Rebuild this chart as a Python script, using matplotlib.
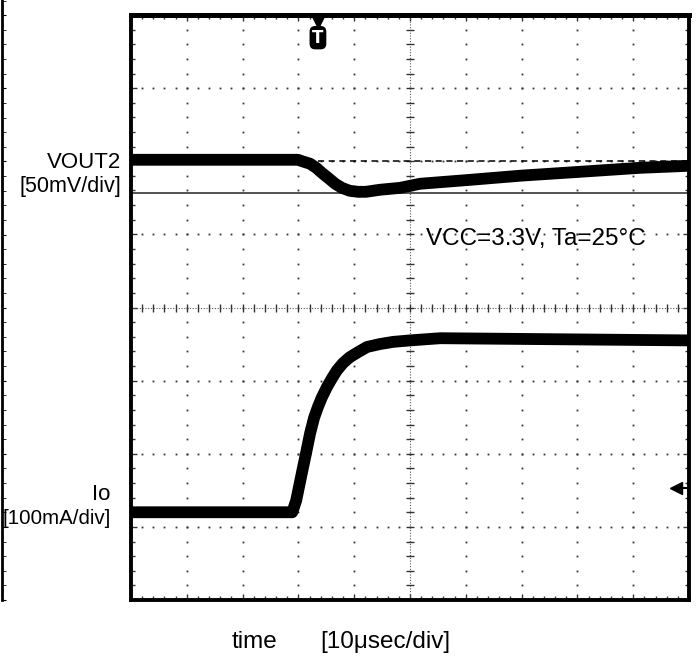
import numpy as np
import matplotlib
matplotlib.use("Agg")
import matplotlib.pyplot as plt
from matplotlib.ticker import MultipleLocator, NullFormatter

plt.rcParams["font.family"] = ["Liberation Sans", "DejaVu Sans"]

# time axis: 10 usec/div, 10 divisions
t_vout = [0, 29.9, 31.0, 32.1, 33.2, 34.2, 35.3, 36.6, 37.8, 39.2, 40.7, 42.1, 44.6,
          48.2, 51.8, 60.8, 69.7, 80.5, 91.2, 100]
# VOUT2 deviation from its starting level [mV], 50 mV/div
vout_mv = [0, 0, -1.4, -2.7, -5.5, -8.9, -12.3, -16.4, -19.2, -21.2, -21.9, -21.9, -20.5,
           -19.2, -16.4, -13.7, -10.9, -8.2, -5.5, -4.1]

t_io = [0, 28.9, 29.6, 30.6, 31.4, 32.1, 32.8, 33.5, 34.2, 35.1, 36.0, 36.9, 38.0,
        39.2, 40.7, 42.3, 44.6, 47.0, 50.0, 55.4, 100]
# load current step [mA], 100 mA/div
io_ma = [0, 0, 16, 53, 82, 108, 129, 144, 157, 171, 183, 194, 204,
         212, 219, 226, 230, 233, 235, 238, 235]

VOUT_BASE_DIV = 6.02   # screen position of VOUT2 before the step
IO_BASE_DIV = 1.20     # screen position of Io before the step
VOUT_REF_DIV = 5.57    # solid reference line
TRIG_US = 33.5

W, H = 696, 659
fig = plt.figure(figsize=(W / 100, H / 100), dpi=100)

L, R, T, B = 131, 689, 15, 600
ax = fig.add_axes([L / W, 1 - B / H, (R - L) / W, (B - T) / H])
ax.set_xlim(0, 100)
ax.set_ylim(0, 8)

# graticule: dotted major lines
for gx in range(10, 100, 10):
    if gx == 50:
        continue
    ys = np.arange(0.2, 8, 0.2)
    ax.plot(np.full_like(ys, gx), ys, "s", ms=1.3, color="#333333", mec="none")
for gy in range(1, 8):
    if gy == 4:
        continue
    xs = np.arange(2, 100, 2)
    ax.plot(xs, np.full_like(xs, gy, dtype=float), "s", ms=1.3, color="#333333", mec="none")

# center cross with small ticks
ax.axvline(50, color="#555555", lw=0.8, ls=(0, (1, 1.5)))
ax.axhline(4, color="#555555", lw=0.8, ls=(0, (1, 1.5)))
ys = np.arange(0.2, 8, 0.2)
ax.plot(np.full_like(ys, 50), ys, "_", ms=6, mew=1, color="#333333")
xs = np.arange(2, 100, 2)
ax.plot(xs, np.full_like(xs, 4, dtype=float), "|", ms=6, mew=1, color="#333333")

# reference lines
ax.axhline(VOUT_REF_DIV, color="#444444", lw=1.3)
ax.plot([TRIG_US, 100], [6.0, 6.0], color="black", lw=1.1, ls=(0, (4, 3)))

# traces
v_div = VOUT_BASE_DIV + np.array(vout_mv) / 50.0
i_div = IO_BASE_DIV + np.array(io_ma) / 100.0
ax.plot(t_vout, v_div, color="black", lw=8.5, solid_capstyle="butt", solid_joinstyle="round")
ax.plot(t_io, i_div, color="black", lw=8.5, solid_capstyle="butt", solid_joinstyle="round")

# trigger marker
ax.plot([TRIG_US], [7.92], marker="v", ms=10, color="black", clip_on=False)
ax.text(TRIG_US, 7.69, "T", color="white", ha="center", va="center", fontsize=12,
        fontweight="bold", family="DejaVu Sans",
        bbox=dict(boxstyle="round,pad=0.12,rounding_size=0.3", fc="black", ec="black"))

# Io ground marker
ax.plot([97.8, 100], [1.53, 1.53], color="black", lw=1.5)
ax.plot([97.6], [1.53], marker="<", ms=8, color="black")

ax.xaxis.set_minor_locator(MultipleLocator(2))
ax.yaxis.set_minor_locator(MultipleLocator(0.2))
ax.xaxis.set_major_locator(MultipleLocator(10))
ax.yaxis.set_major_locator(MultipleLocator(1))
ax.xaxis.set_major_formatter(NullFormatter())
ax.yaxis.set_major_formatter(NullFormatter())
ax.tick_params(which="both", direction="in", top=True, right=True, color="#333333")
ax.tick_params(which="major", length=4, width=1)
ax.tick_params(which="minor", length=3, width=1)
for side in ["left", "right", "bottom"]:
    ax.spines[side].set_linewidth(2.8)
ax.spines["top"].set_linewidth(3.6)

# edge of neighbouring panel on the far left
ax2 = fig.add_axes([-0.1, 1 - B / H, 0.1 + 2 / W, B / H])
ax2.set_ylim(0, B / 73.1)
ax2.set_xlim(0, 1)
for side in ["left", "top", "bottom"]:
    ax2.spines[side].set_visible(False)
ax2.spines["right"].set_linewidth(2)
ax2.set_xticks([])
ax2.yaxis.set_minor_locator(MultipleLocator(0.2))
ax2.yaxis.set_major_locator(MultipleLocator(1))
ax2.yaxis.set_major_formatter(NullFormatter())
ax2.tick_params(axis="y", which="both", direction="out", left=False, right=True, length=3)


def ptext(x, y, s, **kw):
    fig.text(x / W, 1 - y / H, s, **kw)


ptext(121, 168, "VOUT2", ha="right", va="baseline", fontsize=16)
ptext(121, 192, "[50mV/div]", ha="right", va="baseline", fontsize=15.5)
ptext(110, 500, "Io", ha="right", va="baseline", fontsize=16)
ptext(111, 524, "[100mA/div]", ha="right", va="baseline", fontsize=14.8)
ptext(426, 245, "VCC=3.3V, Ta=25\u00b0C", ha="left", va="baseline", fontsize=17.5)
ptext(232, 648, "time", ha="left", va="baseline", fontsize=17.5)
ptext(320, 648, "[10\u03bcsec/div]", ha="left", va="baseline", fontsize=17.5)

fig.savefig("out.png", dpi=100)
